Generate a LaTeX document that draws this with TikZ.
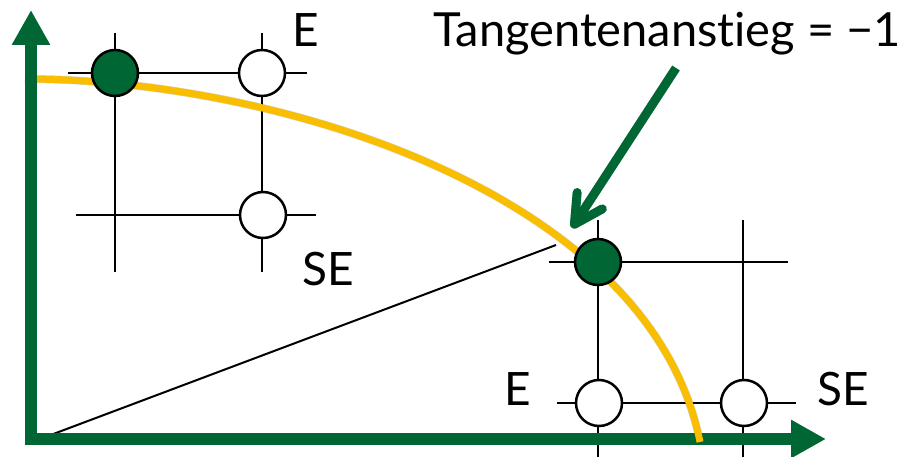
\documentclass[tikz,border=0pt]{standalone}
\usepackage{fontspec}
\setmainfont[Ligatures=CommonOff]{Lato}
\usetikzlibrary{arrows.meta}
\definecolor{dkgreen}{RGB}{0,102,51}
\definecolor{gold}{RGB}{250,190,0}
\begin{document}
\begin{tikzpicture}[x=1pt,y=-1pt,
  gridline/.style={black, line width=2pt},
  opencirc/.style={circle, draw=black, line width=2.5pt, fill=white, minimum size=46pt, inner sep=0pt},
  fillcirc/.style={opencirc, fill=dkgreen},
  axisline/.style={dkgreen, line width=12pt, -{Triangle[length=35pt,width=36pt]}},
  lbl/.style={font=\fontsize{46}{52}\selectfont, text=black, inner sep=0pt, anchor=base west},
  curveline/.style={gold, line width=7pt},
  shadowline/.style={black, opacity=0.15, line width=8pt}
]
\useasboundingbox (0,0) rectangle (910,457);

% coordinates for grid line ends (top-left grid)
\coordinate (h1a) at (68,73);  \coordinate (h1b) at (307,73);
\coordinate (h2a) at (76,215); \coordinate (h2b) at (316,215);
\coordinate (v1a) at (115,33); \coordinate (v1b) at (115,272);
\coordinate (v2a) at (262,33); \coordinate (v2b) at (262,272);
% right grid
\coordinate (h3a) at (549,262); \coordinate (h3b) at (788,262);
\coordinate (h4a) at (557,403); \coordinate (h4b) at (796,403);
\coordinate (v3a) at (598,220); \coordinate (v3b) at (598,460);
\coordinate (v4a) at (743,220); \coordinate (v4b) at (743,460);

% diagonal
\coordinate (o) at (40,439);
\coordinate (d) at (556,245);
\draw[black, line width=2pt] (o) -- (d);

% grid lines
\draw[gridline] (h1a) -- (h1b);
\draw[gridline] (h2a) -- (h2b);
\draw[gridline] (v1a) -- (v1b);
\draw[gridline] (v2a) -- (v2b);
\draw[gridline] (h3a) -- (h3b);
\draw[gridline] (h4a) -- (h4b);
\draw[gridline] (v3a) -- (v3b);
\draw[gridline] (v4a) -- (v4b);

% horizontal axis
\coordinate (xa) at (25,439);
\coordinate (xb) at (826,439);
\draw[axisline] (xa) -- (xb);

% curve (shadow + curve)
\coordinate (c0) at (25,79);
\coordinate (c1) at (275,79);
\coordinate (c2) at (650,192);
\coordinate (c3) at (700,442);
\draw[shadowline, shift={(2,3)}] (c0) .. controls (c1) and (c2) .. (c3);
\draw[curveline] (c0) .. controls (c1) and (c2) .. (c3);

% vertical axis
\coordinate (ya) at (31,445);
\coordinate (yb) at (31,10);
\draw[axisline] (ya) -- (yb);

% circles
\node[fillcirc] (A) at (115,73) {};
\node[opencirc] (B) at (262,73) {};
\node[opencirc] (C) at (263,215) {};
\node[fillcirc] (P) at (598,262) {};
\node[opencirc] (R) at (599,403) {};
\node[opencirc] (S) at (744,403) {};

% green pointer arrow
\coordinate (pa) at (676,68);
\coordinate (pb) at (572,228);
\draw[black, opacity=0.15, line width=9pt, shift={(3,3)}, -{Straight Barb[round,length=28pt,width=30pt]}] (pa) -- (pb);
\draw[dkgreen, line width=9pt, -{Straight Barb[round,length=28pt,width=30pt]}] (pa) -- (pb);

% labels
\node[lbl, font=\fontsize{47}{52}\selectfont] (t) at (433,47) {Tangentenanstieg = −1};
\node[lbl] (e1) at (292,47) {E};
\node[lbl] (se1) at (302,285) {SE};
\node[lbl] (e2) at (504,405) {E};
\node[lbl] (se2) at (817,405) {SE};
\end{tikzpicture}
\end{document}
